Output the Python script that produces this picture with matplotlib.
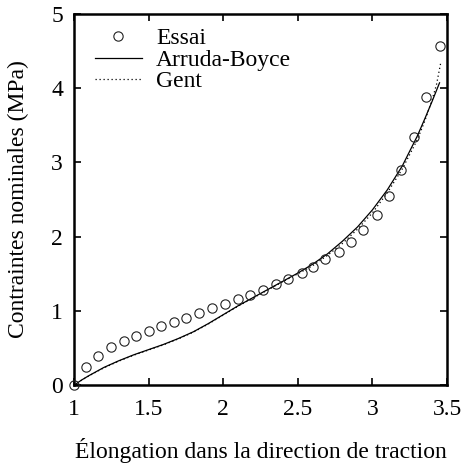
import matplotlib
matplotlib.use("Agg")
import matplotlib.pyplot as plt

# Experimental data (Essai)
essai_x = [1.000, 1.079, 1.164, 1.249, 1.332, 1.415, 1.500, 1.585, 1.668, 1.752,
           1.840, 1.927, 2.011, 2.097, 2.180, 2.267, 2.353, 2.435, 2.525, 2.604,
           2.684, 2.775, 2.857, 2.940, 3.028, 3.111, 3.194, 3.277, 3.362, 3.452]
essai_y = [0.00, 0.24, 0.39, 0.51, 0.60, 0.665, 0.73, 0.795, 0.855, 0.91,
           0.97, 1.04, 1.10, 1.16, 1.215, 1.28, 1.36, 1.43, 1.505, 1.595,
           1.695, 1.795, 1.93, 2.09, 2.29, 2.55, 2.90, 3.34, 3.885, 4.57]

# Arruda-Boyce model curve
ab_x = [1.0, 1.05, 1.1, 1.2, 1.3, 1.4, 1.5, 1.6, 1.7, 1.8, 1.9, 2.0, 2.1, 2.2, 2.3, 2.4,
        2.5, 2.6, 2.7, 2.8, 2.9, 3.0, 3.1, 3.2, 3.3, 3.35, 3.4, 3.45]
ab_y = [0.0, 0.07, 0.13, 0.24, 0.33, 0.41, 0.48, 0.55, 0.63, 0.72, 0.83, 0.95, 1.07, 1.18,
        1.29, 1.40, 1.51, 1.63, 1.77, 1.94, 2.13, 2.36, 2.63, 2.95, 3.35, 3.58, 3.82, 4.07]

# Gent model curve
gent_x = [1.0, 1.05, 1.1, 1.2, 1.3, 1.4, 1.5, 1.6, 1.7, 1.8, 1.9, 2.0, 2.1, 2.2, 2.3, 2.4,
          2.5, 2.6, 2.7, 2.8, 2.9, 3.0, 3.1, 3.2, 3.3, 3.35, 3.4, 3.43, 3.46]
gent_y = [0.0, 0.068, 0.127, 0.235, 0.325, 0.405, 0.475, 0.545, 0.625, 0.715, 0.825, 0.945,
          1.065, 1.175, 1.285, 1.395, 1.50, 1.61, 1.75, 1.91, 2.10, 2.32, 2.59, 2.91,
          3.30, 3.55, 3.84, 4.05, 4.36]

x_ticks = [1, 1.5, 2, 2.5, 3, 3.5]
x_ticklabels = ["1", "1.5", "2", "2.5", "3", "3.5"]
y_ticks = [0, 1, 2, 3, 4, 5]
y_ticklabels = ["0", "1", "2", "3", "4", "5"]

plt.rcParams['font.family'] = ['Liberation Serif', 'DejaVu Serif']
FS = 17

fig = plt.figure(figsize=(4.64, 4.68), dpi=100)
ax = fig.add_axes([74/464, 82.7/468, (447-74)/464, (385.3-13.7)/468])

ax.plot(essai_x, essai_y, linestyle='none', marker='o', markersize=6.7,
        markerfacecolor='none', markeredgecolor='#222222', markeredgewidth=0.8,
        label='Essai', clip_on=False, zorder=3)
ax.plot(ab_x, ab_y, color='black', linewidth=0.9, label='Arruda-Boyce')
ax.plot(gent_x, gent_y, color='black', linewidth=0.9, linestyle=(0, (1, 2.2)), label='Gent')

ax.set_xlim(1, 3.5)
ax.set_ylim(0, 5)
ax.set_xticks(x_ticks)
ax.set_xticklabels(x_ticklabels)
ax.set_yticks(y_ticks)
ax.set_yticklabels(y_ticklabels)
ax.tick_params(direction='in', length=5, width=1.2, labelsize=FS, top=True, right=True)
ax.tick_params(axis='x', pad=10)
ax.tick_params(axis='y', pad=8)
for s in ax.spines.values():
    s.set_linewidth(1.8)

ax.set_xlabel('Élongation dans la direction de traction', fontsize=FS, labelpad=13)
ax.set_ylabel('Contraintes nominales (MPa)', fontsize=FS, labelpad=16)

ax.legend(loc='upper left', frameon=False, fontsize=FS, handlelength=2.0,
          handletextpad=0.6, labelspacing=0.0, borderaxespad=0.2,
          bbox_to_anchor=(0.017, 1.0))

fig.savefig('out.png', dpi=100)
